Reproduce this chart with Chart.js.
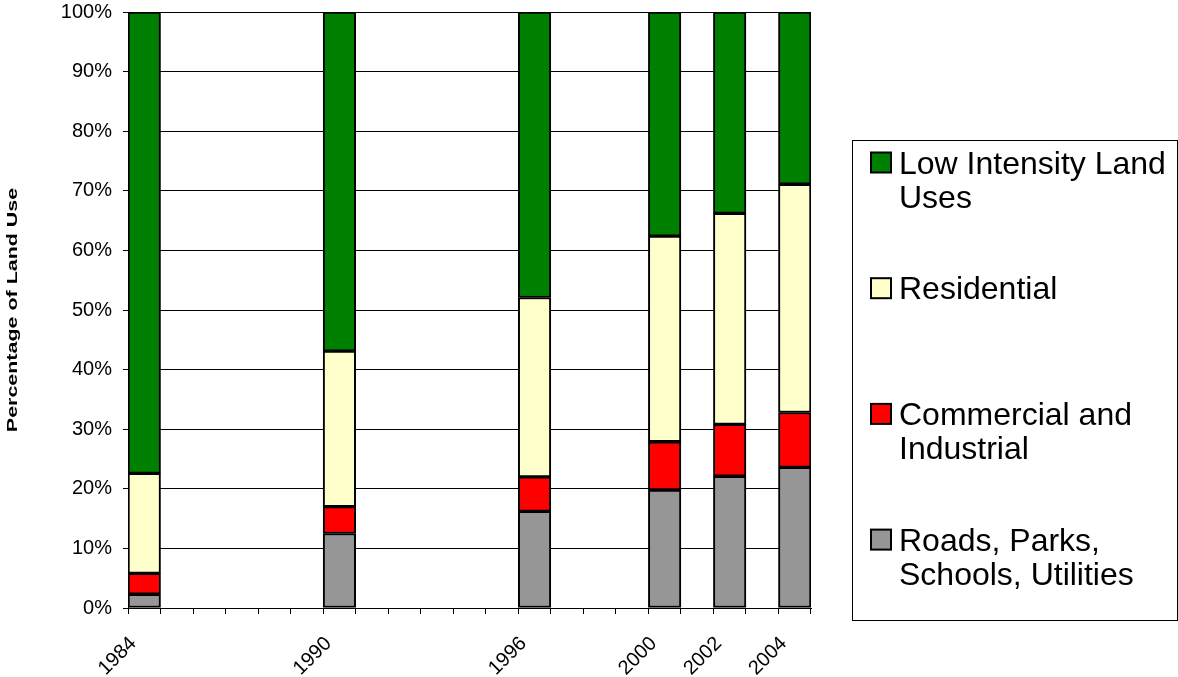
<!DOCTYPE html>
<html>
<head>
<meta charset="utf-8">
<script src="https://cdn.jsdelivr.net/npm/chart.js@4/dist/chart.umd.min.js"></script>
<style>
  html, body { margin: 0; padding: 0; background: #ffffff; }
  #wrap { position: relative; width: 1178px; height: 677px; }
  canvas { display: block; }
</style>
</head>
<body>
<div id="wrap"><canvas id="c" width="1178" height="677"></canvas></div>
<script>
// ---- data ----
const allYears = ['1984','1985','1986','1987','1988','1989','1990','1991','1992','1993','1994',
                  '1995','1996','1997','1998','1999','2000','2001','2002','2003','2004'];
const surveyYears = ['1984','1990','1996','2000','2002','2004'];
const roadsParks   = [2.3, 12.5, 16.2, 19.8, 22.1, 23.6];
const commercial   = [3.5, 4.5, 5.8, 8.1, 8.7, 9.2];
const residential  = [16.8, 26.1, 30.1, 34.5, 35.4, 38.3];
const lowIntensity = [77.4, 56.9, 47.9, 37.6, 33.8, 28.9];
const seriesNames = ['Roads, Parks, Schools, Utilities', 'Commercial and Industrial',
                     'Residential', 'Low Intensity Land Uses'];
const seriesColors = ['#969696', '#ff0000', '#ffffcc', '#008000'];
const yTicks = [0,10,20,30,40,50,60,70,80,90,100];
const yTitle = 'Percentage of Land Use';

const FONT = 'Arial, "Liberation Sans", sans-serif';

function pts(vals) {
  return surveyYears.map((y, i) => ({ x: y, y: vals[i] }));
}
const seriesValues = [roadsParks, commercial, residential, lowIntensity];

const datasets = seriesValues.map((v, i) => ({
  label: seriesNames[i],
  data: pts(v),
  backgroundColor: seriesColors[i],
  borderColor: '#000000',
  borderWidth: 2,
  borderSkipped: false,
  categoryPercentage: 1.0,
  barPercentage: 1.0
}));

// y-axis title (stretched along its length like the reference)
const axisTitle = {
  id: 'axisTitle',
  afterDraw(chart) {
    const ctx = chart.ctx;
    const a = chart.chartArea;
    ctx.save();
    ctx.translate(13, (a.top + a.bottom) / 2);
    ctx.rotate(-Math.PI / 2);
    ctx.scale(1.43, 1);
    ctx.font = 'bold 15px ' + FONT;
    ctx.fillStyle = '#000';
    ctx.textAlign = 'center';
    ctx.textBaseline = 'middle';
    ctx.fillText(yTitle, 0, 0);
    ctx.restore();
  }
};

// custom legend drawn on the canvas
const boxLegend = {
  id: 'boxLegend',
  afterDraw(chart) {
    const ctx = chart.ctx;
    ctx.save();
    ctx.strokeStyle = '#000';
    ctx.lineWidth = 1;
    ctx.strokeRect(852.5, 140.5, 325, 480);
    ctx.font = '32px ' + FONT;
    ctx.textBaseline = 'alphabetic';
    ctx.textAlign = 'left';
    const maxW = 274;
    const ds = chart.data.datasets.slice().reverse();
    ds.forEach((d, k) => {
      const cy = 162.5 + k * 125.7;
      ctx.fillStyle = d.backgroundColor;
      ctx.fillRect(871, cy - 10, 20, 20);
      ctx.lineWidth = 2;
      ctx.strokeStyle = '#000';
      ctx.strokeRect(871, cy - 10, 20, 20);
      const words = d.label.split(' ');
      const lines = [];
      let cur = '';
      words.forEach(w => {
        const t = cur ? cur + ' ' + w : w;
        if (ctx.measureText(t).width > maxW && cur) { lines.push(cur); cur = w; }
        else cur = t;
      });
      if (cur) lines.push(cur);
      ctx.fillStyle = '#000';
      lines.forEach((ln, j) => ctx.fillText(ln, 899, cy + 11 + j * 34));
    });
    ctx.restore();
  }
};

new Chart(document.getElementById('c'), {
  type: 'bar',
  data: { labels: allYears, datasets },
  plugins: [boxLegend, axisTitle],
  options: {
    responsive: false,
    animation: false,
    devicePixelRatio: 1,
    layout: { padding: { top: 12, right: 367, left: 0, bottom: 0 } },
    plugins: { legend: { display: false }, tooltip: { enabled: false } },
    scales: {
      x: {
        type: 'category',
        stacked: true,
        offset: true,
        afterFit(s) { s.height = 69; s.paddingTop = 0; s.paddingBottom = 0; s.paddingLeft = 0; s.paddingRight = 0; },
        border: { display: true, color: '#000', width: 1 },
        grid: { display: true, drawOnChartArea: false, drawTicks: true, tickLength: 6,
                offset: true, color: '#000', lineWidth: 1 },
        ticks: {
          autoSkip: false, maxRotation: 45, minRotation: 45,
          labelOffset: -11, padding: 18,
          color: '#000', font: { family: FONT, size: 20 },
          callback(v, i) { const l = allYears[i]; return surveyYears.includes(l) ? l : ''; }
        }
      },
      y: {
        stacked: true,
        min: 0, max: 100,
        afterFit(s) { s.width = 128; s.paddingTop = 0; s.paddingBottom = 0; },
        afterBuildTicks(s) { s.ticks = yTicks.map(v => ({ value: v })); },
        border: { display: true, color: '#000', width: 1 },
        grid: { color: '#000', lineWidth: 1, drawTicks: true, tickLength: 5 },
        ticks: {
          padding: 11, color: '#000', font: { family: FONT, size: 20 },
          callback(v) { return v + '%'; }
        },
        title: { display: false }
      }
    }
  }
});
</script>
</body>
</html>
